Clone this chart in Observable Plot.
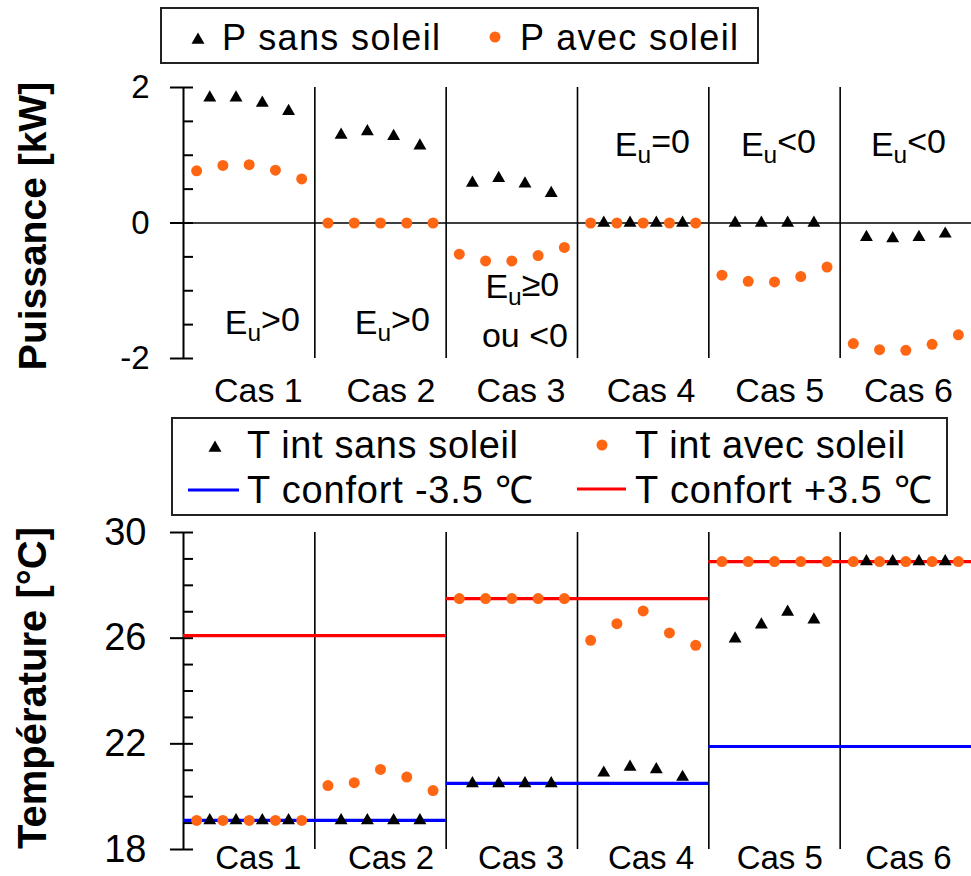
<!DOCTYPE html>
<html>
<head>
<meta charset="utf-8">
<script src="https://cdn.jsdelivr.net/npm/d3@7"></script>
<script src="https://cdn.jsdelivr.net/npm/@observablehq/plot@0.6"></script>
<style>
  html, body { margin: 0; padding: 0; background: #fff; }
  #root { position: relative; width: 971px; height: 876px; overflow: hidden; }
  #root > * { position: absolute; }
</style>
</head>
<body>
<div id="root"></div>
<script>
// ---------------- DATA ----------------
const cases = ["Cas 1", "Cas 2", "Cas 3", "Cas 4", "Cas 5", "Cas 6"];
const casLabelX = [0.57, 1.58, 2.57, 3.56, 4.54, 5.52];
const circleOffsets = [0.1, 0.3, 0.5, 0.7, 0.9];
const triangleOffsets = [0.2, 0.4, 0.6, 0.8];

// Puissance [kW]
const pSansSoleil = [
  [1.85, 1.85, 1.77, 1.65],
  [1.30, 1.35, 1.28, 1.14],
  [0.59, 0.66, 0.58, 0.44],
  [0, 0, 0, 0],
  [0, 0, 0, 0],
  [-0.21, -0.23, -0.21, -0.16]
];
const pAvecSoleil = [
  [0.77, 0.85, 0.86, 0.78, 0.65],
  [0, 0, 0, 0, 0],
  [-0.46, -0.56, -0.56, -0.48, -0.36],
  [0, 0, 0, 0, 0],
  [-0.77, -0.86, -0.87, -0.79, -0.65],
  [-1.78, -1.87, -1.88, -1.79, -1.65]
];

// Température [°C]
const tSansSoleil = [
  [19.1, 19.1, 19.1, 19.1],
  [19.1, 19.1, 19.1, 19.1],
  [20.5, 20.5, 20.5, 20.5],
  [20.9, 21.12, 21.03, 20.74],
  [25.98, 26.51, 26.99, 26.7],
  [28.9, 28.9, 28.9, 28.9]
];
const tAvecSoleil = [
  [19.1, 19.1, 19.1, 19.1, 19.1],
  [20.42, 20.53, 21.03, 20.74, 20.23],
  [27.5, 27.5, 27.5, 27.5, 27.5],
  [25.92, 26.55, 27.03, 26.2, 25.73],
  [28.9, 28.9, 28.9, 28.9, 28.9],
  [28.9, 28.9, 28.9, 28.9, 28.9]
];
// confort limits, one value per pair of cases (1-2, 3-4, 5-6)
const tConfortMoins = [19.1, 20.5, 21.9];
const tConfortPlus = [26.1, 27.5, 28.9];

// annotations (top panel)
const annotText = ["E_u>0", "E_u>0", "E_u≥0", "ou <0", "E_u=0", "E_u<0", "E_u<0"];
const annotX = [0.6, 1.59, 2.58, 2.6, 3.57, 4.53, 5.52];
const annotY = [-1.48, -1.48, -0.95, -1.67, 1.15, 1.15, 1.15];

// axis ticks
const pMajorTicks = [-2, 0, 2];
const pMinorTicks = [-2, -1.5, -1, -0.5, 0, 0.5, 1, 1.5, 2];
const tMajorTicks = [18, 22, 26, 30];
const tMinorTicks = [18, 19, 20, 21, 22, 23, 24, 25, 26, 27, 28, 29, 30];
const separators = [1, 2, 3, 4, 5];

// legend labels
const legendTop = ["P sans soleil", "P avec soleil"];
const legendBottom = ["T int sans soleil", "T int avec soleil", "T confort -3.5 \u2103", "T confort +3.5 \u2103"];

// ---------------- BUILD ----------------
const FONT = "'Liberation Sans', Arial, Helvetica, sans-serif";
const ORANGE = "#ff6614";

function points(arr, offsets) {
  const out = [];
  arr.forEach((vals, i) => vals.forEach((v, j) => out.push({x: i + offsets[j], y: v})));
  return out;
}
const topTri = points(pSansSoleil, triangleOffsets);
const topDot = points(pAvecSoleil, circleOffsets);
const botTri = points(tSansSoleil, triangleOffsets);
const botDot = points(tAvecSoleil, circleOffsets);
const confMoins = tConfortMoins.map((v, k) => ({y: v, x1: 2 * k, x2: 2 * k + 2}));
const confPlus = tConfortPlus.map((v, k) => ({y: v, x1: 2 * k, x2: 2 * k + 2}));
const annots = annotText.map((t, i) => ({text: t, x: annotX[i], y: annotY[i]}));

const casFmt = d => cases[casLabelX.indexOf(d)];
const numFmt = d => String(d);

const topPlot = Plot.plot({
  width: 971,
  height: 345,
  marginLeft: 183,
  marginRight: 0,
  marginTop: 17,
  marginBottom: 57,
  x: {domain: [0, 6]},
  y: {domain: [-2, 2]},
  style: {fontFamily: FONT, fontSize: "33px", background: "transparent", overflow: "visible", color: "#000"},
  marks: [
    Plot.ruleX(separators, {strokeWidth: 1.6}),
    Plot.ruleY([0], {strokeWidth: 1.6}),
    Plot.ruleX([0], {strokeWidth: 2}),
    Plot.axisY(pMajorTicks, {tickSize: 13, tickPadding: 21, strokeWidth: 2, label: null, fontSize: 33, tickFormat: numFmt}),
    Plot.axisY(pMinorTicks, {tickSize: 10, dx: 10, strokeWidth: 2, label: null, tickFormat: () => ""}),
    Plot.axisX(casLabelX, {tickSize: 0, tickPadding: 19, label: null, tickFormat: casFmt, fontSize: 34}),
    Plot.text(annots, {x: "x", y: "y", text: "text", fontSize: 34, textAnchor: "middle"}),
    Plot.dot(topDot, {x: "x", y: "y", r: 5.5, fill: ORANGE, stroke: "none"}),
    Plot.dot(topTri, {x: "x", y: "y", r: 4.8, symbol: "triangle", fill: "#000", stroke: "none"})
  ]
});

const botPlot = Plot.plot({
  width: 971,
  height: 356,
  marginLeft: 183,
  marginRight: 0,
  marginTop: 12,
  marginBottom: 27,
  x: {domain: [0, 6]},
  y: {domain: [18, 30]},
  style: {fontFamily: FONT, fontSize: "38px", background: "transparent", overflow: "visible", color: "#000"},
  marks: [
    Plot.ruleX(separators, {strokeWidth: 1.6}),
    Plot.ruleX([0], {strokeWidth: 2}),
    Plot.axisY(tMajorTicks, {tickSize: 13, tickPadding: 24, strokeWidth: 2, label: null, fontSize: 38, tickFormat: numFmt}),
    Plot.axisY(tMinorTicks, {tickSize: 10, dx: 10, strokeWidth: 2, label: null, tickFormat: () => ""}),
    Plot.axisX(casLabelX, {tickSize: 0, tickPadding: -4, label: null, tickFormat: casFmt, fontSize: 33}),
    Plot.ruleY(confPlus, {y: "y", x1: "x1", x2: "x2", stroke: "#ff0000", strokeWidth: 3.2}),
    Plot.ruleY(confMoins, {y: "y", x1: "x1", x2: "x2", stroke: "#0000ff", strokeWidth: 3.2}),
    Plot.dot(botDot, {x: "x", y: "y", r: 5.5, fill: ORANGE, stroke: "none"}),
    Plot.dot(botTri, {x: "x", y: "y", r: 4.8, symbol: "triangle", fill: "#000", stroke: "none"})
  ]
});

// subscript "u" in E_u annotations
d3.select(topPlot).selectAll("text").each(function() {
  const s = this.textContent;
  if (s.includes("_u")) {
    const [pre, post] = s.split("_u");
    const t = d3.select(this);
    t.text(null);
    t.append("tspan").text(pre);
    t.append("tspan").attr("dy", "0.28em").attr("font-size", "0.72em").text("u");
    t.append("tspan").attr("dy", "-0.28em").text(post);
  }
});

const root = document.getElementById("root");
topPlot.style.left = "0px"; topPlot.style.top = "70px";
botPlot.style.left = "0px"; botPlot.style.top = "520px";
root.appendChild(topPlot);
root.appendChild(botPlot);

// overlay: legends and y-axis titles
const ov = d3.create("svg")
  .attr("width", 971).attr("height", 876)
  .style("left", "0px").style("top", "0px")
  .style("font-family", FONT);

const tri = d3.symbol(d3.symbolTriangle, 73)();

// top legend
ov.append("rect").attr("x", 161).attr("y", 8).attr("width", 597).attr("height", 55)
  .attr("fill", "none").attr("stroke", "#222").attr("stroke-width", 2);
ov.append("path").attr("d", tri).attr("transform", "translate(198,40)").attr("fill", "#000");
ov.append("circle").attr("cx", 495).attr("cy", 37).attr("r", 5.5).attr("fill", ORANGE);
[[222, 218], [520, 218]].forEach(([x, w], i) => {
  ov.append("text").attr("x", x).attr("y", 50).attr("font-size", 36)
    .attr("textLength", w).attr("lengthAdjust", "spacing").text(legendTop[i]);
});

// bottom legend
ov.append("rect").attr("x", 172).attr("y", 418).attr("width", 775).attr("height", 97)
  .attr("fill", "none").attr("stroke", "#222").attr("stroke-width", 2);
ov.append("path").attr("d", tri).attr("transform", "translate(215,448)").attr("fill", "#000");
ov.append("circle").attr("cx", 602).attr("cy", 445).attr("r", 5.5).attr("fill", ORANGE);
ov.append("line").attr("x1", 188).attr("x2", 239).attr("y1", 490).attr("y2", 490).attr("stroke", "#0000ff").attr("stroke-width", 3.2);
ov.append("line").attr("x1", 577).attr("x2", 626).attr("y1", 489).attr("y2", 489).attr("stroke", "#ff0000").attr("stroke-width", 3.2);
[[247, 458, 271], [635, 458, 270], [247, 503, 286], [635, 503, 297]].forEach(([x, y, w], i) => {
  ov.append("text").attr("x", x).attr("y", y).attr("font-size", 38)
    .attr("textLength", w).attr("lengthAdjust", "spacing").text(legendBottom[i]);
});

// y-axis titles
ov.append("text").attr("transform", "translate(46,226) rotate(-90)").attr("text-anchor", "middle")
  .attr("font-size", 39).attr("font-weight", "bold").text("Puissance [kW]");
ov.append("text").attr("transform", "translate(46,688) rotate(-90)").attr("text-anchor", "middle")
  .attr("font-size", 40).attr("font-weight", "bold").text("Température [°C]");

root.appendChild(ov.node());
</script>
</body>
</html>
